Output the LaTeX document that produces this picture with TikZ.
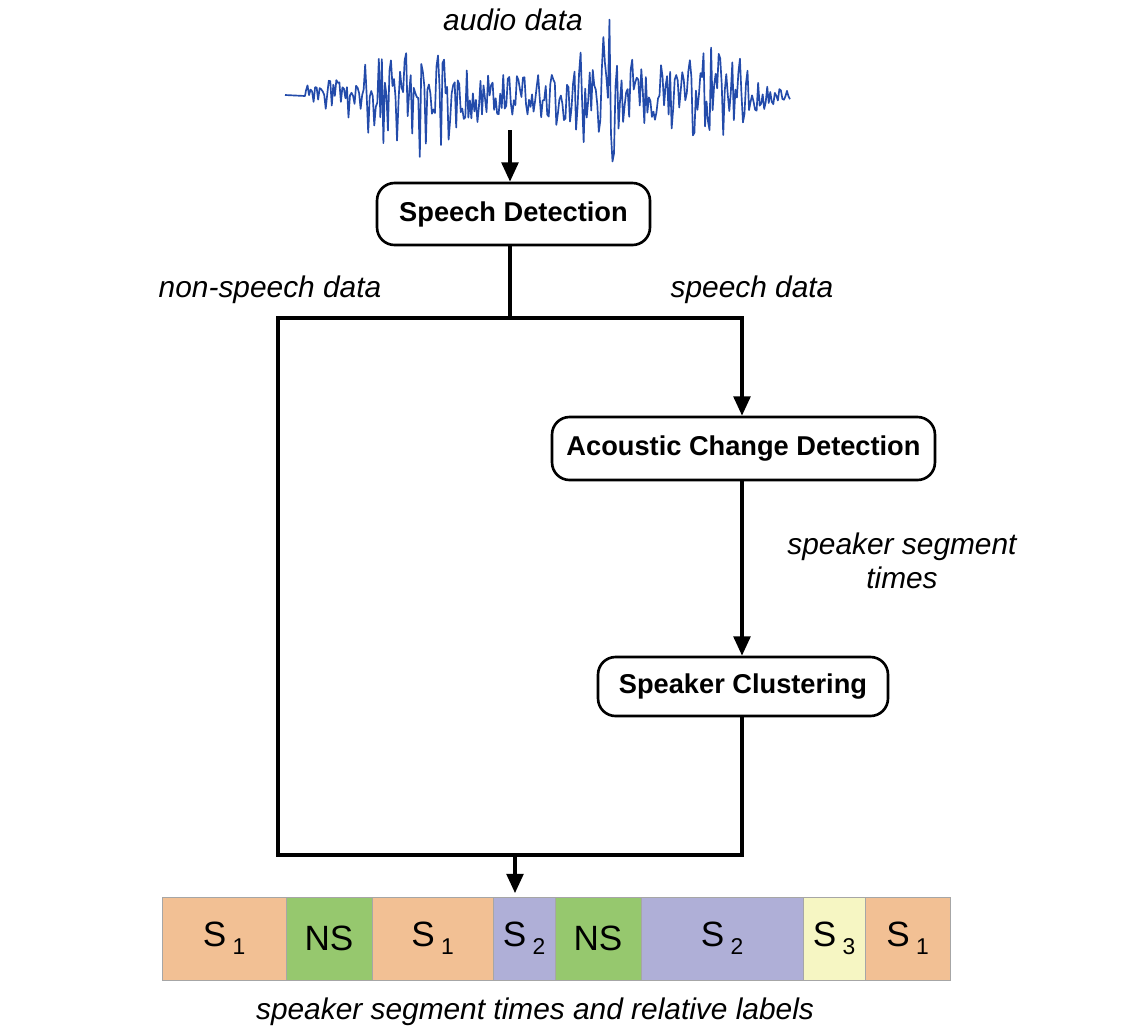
\documentclass[tikz,border=0pt]{standalone}
\usepackage{fontspec}
\setmainfont{Liberation Sans}
\usetikzlibrary{arrows.meta}
\definecolor{wave}{RGB}{35,75,170}
\definecolor{sone}{RGB}{242,192,148}
\definecolor{nsg}{RGB}{150,200,110}
\definecolor{stwo}{RGB}{175,175,215}
\definecolor{sthree}{RGB}{246,246,195}
\newcommand{\SpkSub}[2]{#1\hspace{0.18em}\raisebox{-0.45ex}{\fontsize{13}{14}\selectfont #2}}
\begin{document}
\begin{tikzpicture}[x=0.02cm,y=-0.02cm,
 procbox/.style={draw, line width=1.5pt, rounded corners=0.35cm, font=\fontsize{15.5}{18}\selectfont\bfseries, inner sep=0pt},
 lbl/.style={font=\fontsize{17}{19}\selectfont\itshape, inner sep=0pt},
 conn/.style={line width=2pt},
 arr/.style={conn, -{Triangle[width=9.5pt,length=11pt]}},
 seg/.style={draw=black!35, line width=0.4pt, minimum height=1.66cm, inner sep=0pt, font=\fontsize{20}{22}\selectfont}]
\useasboundingbox (0,0) rectangle (1143,1029);

% waveform
\pgfmathsetseed{17}
\draw[wave, line width=0.95pt, line join=round]
  (285,95) -- (305,96) -- plot[domain=306:790, samples=320]
  (\x, {95 + (3 + 15*exp(-((\x-550)/235)^4) + 44*exp(-((\x-410)/55)^2) + 58*exp(-((\x-605)/38)^2) + 34*exp(-((\x-712)/42)^2))*(0.85*rand + 0.22*sin(mod(\x,7.2)*50))});

\node[lbl] (audio) at (513,20) {audio data};
\coordinate (wv) at (510,130);

% boxes
\node[procbox, minimum width=5.46cm, minimum height=1.24cm] (SD) at (513.5,214) {Speech Detection};
\node[procbox, minimum width=7.66cm, minimum height=1.26cm] (ACD) at (743.5,448.5) {Acoustic Change Detection};
\node[procbox, minimum width=5.8cm, minimum height=1.18cm] (SC) at (743,686.5) {Speaker Clustering};

% labels
\node[lbl] (nsd) at (270,290) {non-speech data};
\node[lbl] (sd) at (752,290) {speech data};
\node[lbl, align=center] (sst) at (902,561) {speaker segment\\times};

% junctions
\coordinate (jm) at (510,318);
\coordinate (jl) at (278,318);
\coordinate (jr) at (742,318);
\coordinate (bl) at (278,855);
\coordinate (br) at (742,855);
\coordinate (bm) at (515,855);

% connectors
\draw[arr] (wv) -- (wv |- SD.north);
\draw[conn] (SD.south -| jm) -- (jm);
\draw[conn, line cap=rect] (jl) -- (jr);
\draw[arr] (jr) -- (jr |- ACD.north);
\draw[arr] (ACD.south -| jr) -- (SC.north -| jr);
\draw[conn, line join=miter] (SC.south -| br) -- (br) -- (bl) -- (jl);

% bar
\node[seg, fill=sone, minimum width=2.48cm] (b1) at (224,938.5) {\SpkSub{S}{1}};
\node[seg, fill=nsg, minimum width=1.72cm] (b2) at (329,938.5) {NS};
\node[seg, fill=sone, minimum width=2.42cm] (b3) at (432.5,938.5) {\SpkSub{S}{1}};
\node[seg, fill=stwo, minimum width=1.24cm] (b4) at (524,938.5) {\SpkSub{S}{2}};
\node[seg, fill=nsg, minimum width=1.72cm] (b5) at (598,938.5) {NS};
\node[seg, fill=stwo, minimum width=3.24cm] (b6) at (722,938.5) {\SpkSub{S}{2}};
\node[seg, fill=sthree, minimum width=1.24cm] (b7) at (834,938.5) {\SpkSub{S}{3}};
\node[seg, fill=sone, minimum width=1.70cm] (b8) at (907.5,938.5) {\SpkSub{S}{1}};

\draw[arr, shorten >=2pt] (bm) -- (bm |- b4.north);

\node[lbl] (out) at (535,1012) {speaker segment times and relative labels};
\end{tikzpicture}
\end{document}
